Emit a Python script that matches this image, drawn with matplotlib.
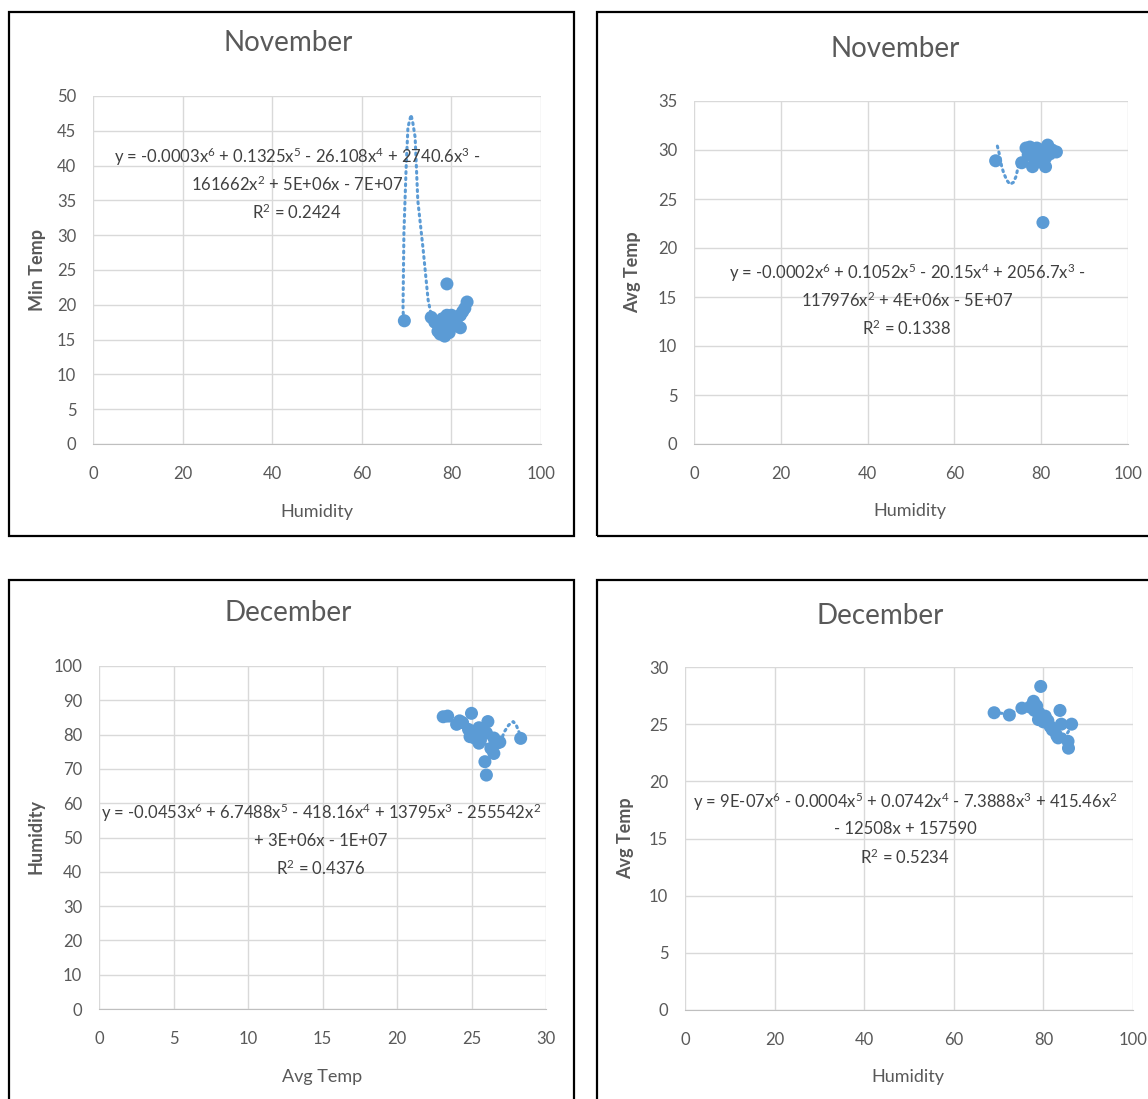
import matplotlib
matplotlib.use("Agg")
import matplotlib.pyplot as plt
from matplotlib.patches import Rectangle

plt.rcParams['font.family'] = ['Lato', 'DejaVu Sans']

# ---- data ----
# November: humidity vs min temp
nov_hum_a = [69.5, 75.5, 76.3, 77.0, 77.5, 78.0, 78.5, 79.0, 79.0, 79.5, 80.0, 80.5,
             81.0, 81.5, 82.0, 82.5, 83.0, 83.5, 77.5, 78.5, 80.0, 81.0, 78.0, 79.5, 82.0, 79.0]
nov_min = [17.7, 18.2, 17.5, 16.2, 17.0, 16.5, 15.5, 18.5, 23.0, 17.2, 16.8, 18.0,
           17.5, 18.3, 16.7, 19.0, 19.5, 20.4, 15.8, 16.0, 18.5, 17.0, 18.0, 16.0, 18.5, 17.8]
nov_trend1_x = [69.3, 69.2, 69.4, 69.9, 70.3, 71.0, 71.4, 71.9, 72.5, 73.7, 74.8, 75.5, 77.0, 79.0, 81.0, 83.5]
nov_trend1_y = [17.8, 19.7, 30.3, 39.8, 45.5, 47.3, 46.1, 44.1, 35.0, 27.9, 20.7, 18.5, 16.8, 16.8, 17.8, 20.2]

# November: humidity vs avg temp
nov_hum_b = [69.5, 75.5, 76.5, 77.4, 77.0, 77.5, 78.0, 78.5, 79.0, 79.5, 80.0, 80.5,
             81.0, 81.5, 82.0, 82.5, 83.5, 80.4, 78.5, 81.0, 79.5]
nov_avg = [28.9, 28.7, 30.2, 30.3, 29.5, 29.9, 28.3, 29.8, 30.2, 28.8, 29.5, 30.0,
           28.3, 30.5, 29.6, 30.0, 29.8, 22.6, 29.0, 29.2, 29.4]
nov_trend2_x = [69.9, 70.4, 70.9, 71.4, 72.1, 72.8, 73.6, 74.2, 74.7, 76.0, 78.0, 80.0, 82.0, 83.5]
nov_trend2_y = [30.4, 29.5, 28.3, 27.6, 26.9, 26.5, 26.7, 27.3, 28.3, 29.3, 29.6, 29.4, 29.5, 29.8]

# December: avg temp vs humidity
dec_avg_a = [23.1, 23.4, 24.0, 24.4, 24.8, 25.0, 25.2, 25.5, 25.6, 26.1, 26.0, 25.5,
             26.3, 26.5, 26.9, 26.5, 25.9, 26.0, 28.3, 24.2, 24.9, 26.7]
dec_hum = [85.2, 85.4, 83.0, 83.5, 81.5, 86.2, 79.0, 82.0, 78.4, 83.8, 80.5, 77.5,
           76.0, 79.0, 77.8, 74.5, 72.1, 68.2, 78.9, 84.0, 79.4, 77.5]
dec_trend3_x = [23.1, 24.0, 25.0, 26.0, 26.6, 27.0, 27.2, 27.5, 27.8, 28.0, 28.3]
dec_trend3_y = [85.0, 83.0, 81.0, 77.0, 76.5, 78.5, 80.8, 82.8, 83.8, 82.8, 79.5]

# December: humidity vs avg temp
dec_hum_b = [69.0, 72.4, 75.2, 77.0, 77.8, 78.0, 78.9, 79.4, 79.0, 80.4, 80.0, 81.0,
             81.5, 82.0, 83.3, 83.7, 83.0, 85.5, 85.6, 86.3, 84.0, 78.5]
dec_avg_b = [26.0, 25.8, 26.4, 26.5, 27.0, 26.2, 25.4, 28.3, 26.0, 25.7, 25.2, 25.3,
             24.8, 24.5, 23.8, 26.2, 24.0, 23.5, 22.9, 25.0, 25.0, 26.6]
dec_trend4_x = [69.0, 72.4, 75.0, 78.0, 80.5, 83.0, 85.0, 86.3]
dec_trend4_y = [26.0, 25.9, 26.3, 26.3, 25.5, 24.5, 24.0, 24.8]

W, H = 1148, 1099
BLUE = '#5B9BD5'
GRAY = '#595959'
fig = plt.figure(figsize=(W / 100, H / 100), dpi=100)


def px_axes(l, t, r, b):
    return fig.add_axes([l / W, 1 - b / H, (r - l) / W, (b - t) / H])


def ftext(x, y, s, **kw):
    fig.text(x / W, 1 - y / H, s, **kw)


def frame(l, t, r, b):
    fig.patches.append(Rectangle((l / W, 1 - b / H), (r - l) / W, (b - t) / H,
                                 transform=fig.transFigure, fill=False,
                                 edgecolor='black', linewidth=1.6, zorder=0))


def sup(s):
    # x^6 -> mathtext superscript in the text font
    parts = s.split('^')
    out = parts[0]
    for p in parts[1:]:
        out += r'$\mathregular{^' + p[0] + '}$' + p[1:]
    return out


def panel(box, frm, x, y, tx, ty, xlim, ylim, xstep, ystep, title, title_pos,
          xlabel, xlabel_pos, ylabel, ylabel_pos, eq_lines, eq_pos):
    frame(*frm)
    ax = px_axes(*box)
    ax.plot(tx, ty, color=BLUE, linestyle=(0, (0.6, 1.4)), linewidth=2.2,
            dash_capstyle='round', zorder=2)
    ax.scatter(x, y, s=88, color=BLUE, edgecolors='none', zorder=3)
    ax.set_xlim(*xlim)
    ax.set_ylim(*ylim)
    ax.set_xticks(range(xlim[0], xlim[1] + 1, xstep))
    ax.set_yticks(range(ylim[0], ylim[1] + 1, ystep))
    ax.grid(True, color='#d9d9d9', linewidth=1)
    ax.set_axisbelow(True)
    for s in ['top', 'right', 'left']:
        ax.spines[s].set_visible(False)
    ax.spines['bottom'].set_color('#bfbfbf')
    ax.tick_params(length=0, labelsize=12, labelcolor=GRAY)
    ax.tick_params(axis='x', pad=16)
    ax.tick_params(axis='y', pad=12)
    ftext(*title_pos, title, fontsize=20, color=GRAY, ha='center', va='center')
    ftext(*xlabel_pos, xlabel, fontsize=13, color=GRAY, ha='center', va='center')
    ftext(*ylabel_pos, ylabel, fontsize=13, color=GRAY, ha='center', va='center',
          rotation=90, fontweight='bold')
    ex, ey = eq_pos
    for i, line in enumerate(eq_lines):
        ftext(ex, ey + i * 27.5, sup(line), fontsize=12, color='#404040',
              ha='center', va='center')
    return ax


panel((93, 96, 541, 444), (9, 12, 574, 536), nov_hum_a, nov_min, nov_trend1_x, nov_trend1_y,
      (0, 100), (0, 50), 20, 5, 'November', (288, 43), 'Humidity', (317, 512),
      'Min Temp', (37, 270),
      ['y = -0.0003x^6 + 0.1325x^5 - 26.108x^4 + 2740.6x^3 -',
       '161662x^2 + 5E+06x - 7E+07', 'R^2 = 0.2424'], (297, 157))

panel((694, 101, 1128, 444), (597, 12, 1152, 536), nov_hum_b, nov_avg, nov_trend2_x, nov_trend2_y,
      (0, 100), (0, 35), 20, 5, 'November', (895, 49), 'Humidity', (910, 511),
      'Avg Temp', (633, 272),
      ['y = -0.0002x^6 + 0.1052x^5 - 20.15x^4 + 2056.7x^3 -',
       '117976x^2 + 4E+06x - 5E+07', 'R^2 = 0.1338'], (907, 273))

panel((99, 666, 546, 1009), (9, 580, 574, 1104), dec_avg_a, dec_hum, dec_trend3_x, dec_trend3_y,
      (0, 30), (0, 100), 5, 10, 'December', (288, 613), 'Avg Temp', (322, 1077),
      'Humidity', (36, 837),
      ['y = -0.0453x^6 + 6.7488x^5 - 418.16x^4 + 13795x^3 - 255542x^2',
       '+ 3E+06x - 1E+07', 'R^2 = 0.4376'], (321, 813))

panel((685, 667, 1133, 1010), (597, 580, 1152, 1104), dec_hum_b, dec_avg_b, dec_trend4_x, dec_trend4_y,
      (0, 100), (0, 30), 20, 5, 'December', (880, 616), 'Humidity', (908, 1077),
      'Avg Temp', (626, 838),
      ['y = 9E-07x^6 - 0.0004x^5 + 0.0742x^4 - 7.3888x^3 + 415.46x^2',
       '- 12508x + 157590', 'R^2 = 0.5234'], (905, 802))

fig.savefig('out.png', dpi=100)
